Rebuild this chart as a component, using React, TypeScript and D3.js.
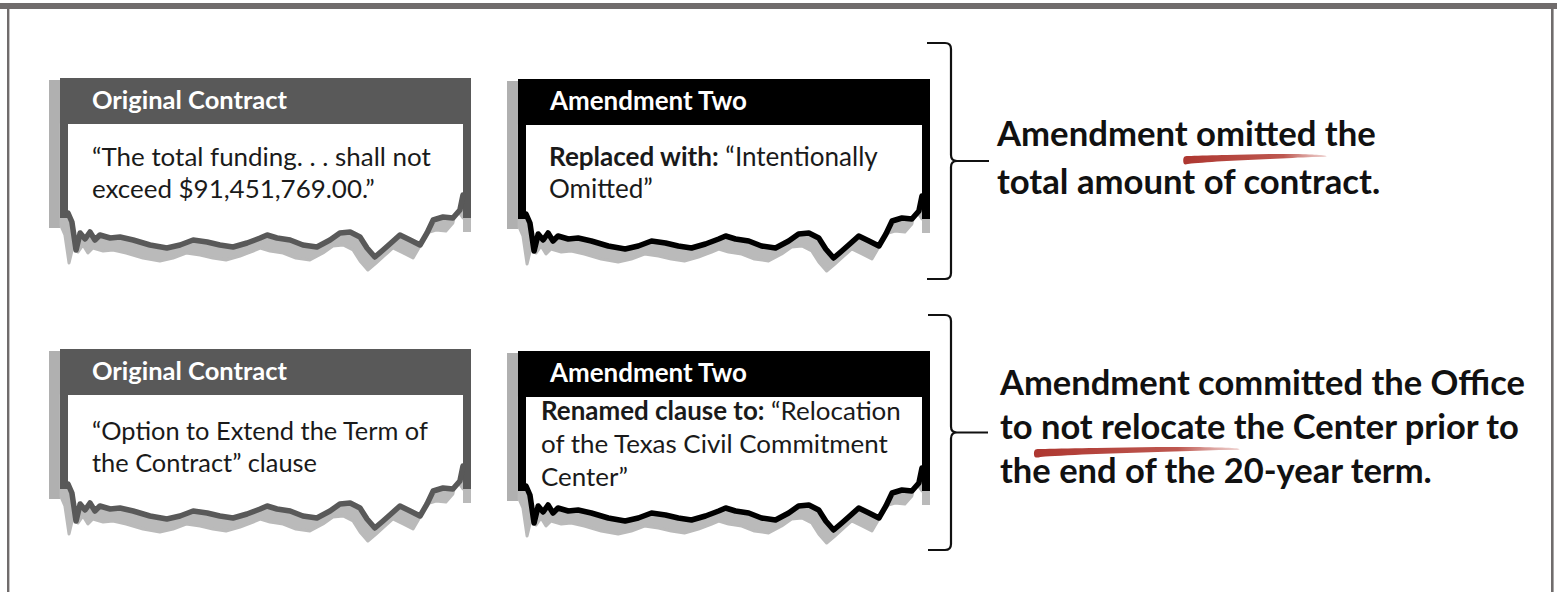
import React, { useEffect, useRef } from "react";
import * as d3 from "d3";

const WIDTH = 1557;
const HEIGHT = 592;

// ---- content ----
const originalTitles = ["Original Contract", "Original Contract"];
const amendmentTitles = ["Amendment Two", "Amendment Two"];

// each line: [bold part, regular part]
const originalText1 = [["", "“The total funding. . . shall not"], ["", "exceed $91,451,769.00.”"]];
const amendmentText1 = [["Replaced with:", " “Intentionally"], ["", "Omitted”"]];
const originalText2 = [["", "“Option to Extend the Term of"], ["", "the Contract” clause"]];
const amendmentText2 = [
  ["Renamed clause to:", " “Relocation"],
  ["", "of the Texas Civil Commitment"],
  ["", "Center”"],
];

const findingText1 = ["Amendment omitted the", "total amount of contract."];
const findingText2 = [
  "Amendment committed the Office",
  "to not relocate the Center prior to",
  "the end of the 20-year term.",
];
const findingHighlight1 = { line: 0, phrase: "omitted" };
const findingHighlight2 = { line: 1, phrase: "not relocate" };

// torn paper edge profile: fraction across the box, drop below the box top (px)
const tornFx = [0.0195, 0.029, 0.039, 0.049, 0.061, 0.073, 0.085, 0.097, 0.122, 0.146, 0.178, 0.219, 0.26, 0.292, 0.324, 0.358, 0.389, 0.421, 0.455, 0.487, 0.504, 0.528, 0.56, 0.591, 0.625, 0.657, 0.681, 0.706, 0.73, 0.747, 0.766, 0.786, 0.808, 0.827, 0.852, 0.876, 0.893, 0.908, 0.932, 0.956, 0.973, 0.9805];
const tornDy = [135, 144, 172, 155, 161, 154, 162, 157, 160, 159, 162, 167, 170, 167, 162, 164, 167, 169, 165, 160, 157, 160, 162, 167, 169, 162, 155, 154, 159, 170, 179, 172, 164, 157, 162, 167, 155, 142, 139, 140, 132, 117];

const FONT = "Lato, Carlito, Calibri, 'Open Sans', sans-serif";

type Box = {
  x: number; y: number; w: number; dark: string;
  title: string; titleW: number;
  lines: string[][]; textX: number; firstBase: number; step: number; lineW: number;
};

const boxes: Box[] = [
  { x: 60, y: 78, w: 411, dark: "#595959", title: originalTitles[0], titleW: 195, lines: originalText1, textX: 32, firstBase: 88, step: 32, lineW: 339 },
  { x: 518, y: 79, w: 412, dark: "#000000", title: amendmentTitles[0], titleW: 197, lines: amendmentText1, textX: 31, firstBase: 87, step: 32, lineW: 329 },
  { x: 60, y: 349, w: 411, dark: "#595959", title: originalTitles[1], titleW: 195, lines: originalText2, textX: 32, firstBase: 91, step: 32, lineW: 336 },
  { x: 518, y: 351, w: 412, dark: "#000000", title: amendmentTitles[1], titleW: 197, lines: amendmentText2, textX: 23, firstBase: 69, step: 33, lineW: 360 },
];

const findings = [
  { x: 997, bases: [146, 194], lines: findingText1, w: 379, hl: findingHighlight1, pad: [12, 10] },
  { x: 1000, bases: [395, 439, 483], lines: findingText2, w: 525, hl: findingHighlight2, pad: [6, 14] },
];

const braces = [
  { x: 951, y0: 43, y1: 279, hook: 927, tick: 989 },
  { x: 951, y0: 315, y1: 550, hook: 928, tick: 988 },
];

export default function App() {
  const ref = useRef<SVGSVGElement>(null);

  useEffect(() => {
    const draw = () => {
      if (!ref.current) return;
      const svg = d3.select(ref.current);
      svg.selectAll("*").remove();

      const defs = svg.append("defs");
      const grad = defs.append("linearGradient").attr("id", "brushGrad").attr("x1", "0").attr("x2", "1").attr("y1", "0").attr("y2", "0");
      grad.append("stop").attr("offset", "0").attr("stop-color", "#a92c25").attr("stop-opacity", 0.95);
      grad.append("stop").attr("offset", "0.7").attr("stop-color", "#b23a31").attr("stop-opacity", 0.85);
      grad.append("stop").attr("offset", "1").attr("stop-color", "#c0554d").attr("stop-opacity", 0.25);

      // frame
      svg.append("rect").attr("x", 0).attr("y", 3).attr("width", WIDTH).attr("height", 6).attr("fill", "#706c6c");
      svg.append("rect").attr("x", 7).attr("y", 3).attr("width", 2.4).attr("height", HEIGHT - 3).attr("fill", "#706c6c");
      svg.append("rect").attr("x", 1551).attr("y", 3).attr("width", 2.6).attr("height", HEIGHT - 3).attr("fill", "#706c6c");

      const line = d3.line<[number, number]>().x((d) => d[0]).y((d) => d[1]);

      boxes.forEach((b) => {
        const g = svg.append("g");
        const x1 = b.x + b.w;
        const pts: [number, number][] = tornFx.map((f, i) => [b.x + f * b.w, b.y + tornDy[i]]);

        // shadow
        const shadow = "#bababa";
        g.append("rect").attr("x", b.x - 11).attr("y", b.y + 2).attr("width", 11).attr("height", 148).attr("fill", "#b0b0b0");
        g.append("rect").attr("x", x1 - 8).attr("y", b.y + 2).attr("width", 8).attr("height", 152).attr("fill", shadow);
        const sh: [number, number][] = [[b.x + 1, b.y + 46], ...pts.map((p) => [p[0] - 7, p[1] + 13] as [number, number]), [x1 - 8, b.y + 140], [x1 - 8, b.y + 46]];
        g.append("path").attr("d", line(sh) + "Z").attr("fill", shadow).attr("stroke", shadow).attr("stroke-width", 3).attr("stroke-linejoin", "round");

        // header + side borders
        g.append("rect").attr("x", b.x).attr("y", b.y).attr("width", b.w).attr("height", 46).attr("fill", b.dark);
        g.append("rect").attr("x", b.x).attr("y", b.y).attr("width", 8).attr("height", 140).attr("fill", b.dark);
        g.append("rect").attr("x", x1 - 8).attr("y", b.y).attr("width", 8).attr("height", 140).attr("fill", b.dark);

        // body
        const body: [number, number][] = [[b.x + 8, b.y + 46], [x1 - 8, b.y + 46], ...pts.slice().reverse()];
        g.append("path").attr("d", line(body) + "Z").attr("fill", "#ffffff");
        g.append("path").attr("d", line(pts)).attr("fill", "none").attr("stroke", b.dark).attr("stroke-width", 5.5).attr("stroke-linejoin", "round").attr("stroke-linecap", "round");

        // title
        const t = g.append("text").attr("x", b.x + 32).attr("y", b.y + 30.5).attr("fill", "#ffffff").attr("font-family", FONT).attr("font-weight", 700).attr("font-size", 20).text(b.title);
        const tl = (t.node() as SVGTextElement).getComputedTextLength();
        if (tl > 0) t.attr("font-size", (20 * b.titleW) / tl);

        // body text
        const texts = b.lines.map((ln, i) => {
          const te = g.append("text").attr("x", b.x + b.textX).attr("y", b.y + b.firstBase + i * b.step).attr("fill", "#1a1a1a").attr("font-family", FONT).attr("font-size", 22).style("white-space", "pre");
          if (ln[0]) te.append("tspan").attr("font-weight", 700).text(ln[0]);
          te.append("tspan").text(ln[1]);
          return te;
        });
        const l0 = (texts[0].node() as SVGTextElement).getComputedTextLength();
        if (l0 > 0) texts.forEach((te) => te.attr("font-size", (22 * b.lineW) / l0));
      });

      // braces
      braces.forEach((br) => {
        const ym = (br.y0 + br.y1) / 2;
        const r = 6;
        const d = `M${br.hook},${br.y0} L${br.x - r},${br.y0} Q${br.x},${br.y0} ${br.x},${br.y0 + r} L${br.x},${ym - r} Q${br.x},${ym} ${br.x + r},${ym} L${br.tick},${ym} M${br.x + r},${ym} Q${br.x},${ym} ${br.x},${ym + r} L${br.x},${br.y1 - r} Q${br.x},${br.y1} ${br.x - r},${br.y1} L${br.hook},${br.y1}`;
        svg.append("path").attr("d", d).attr("fill", "none").attr("stroke", "#111").attr("stroke-width", 2.2);
      });

      // findings
      findings.forEach((f) => {
        const g = svg.append("g");
        const texts = f.lines.map((ln, i) =>
          g.append("text").attr("x", f.x).attr("y", f.bases[i]).attr("fill", "#111").attr("font-family", FONT).attr("font-weight", 700).attr("font-size", 30).style("white-space", "pre").text(ln)
        );
        const l0 = (texts[0].node() as SVGTextElement).getComputedTextLength();
        if (l0 > 0) texts.forEach((te) => te.attr("font-size", (30 * f.w) / l0));

        // brush underline under highlighted phrase
        const node = texts[f.hl.line].node() as SVGTextElement;
        const str = f.lines[f.hl.line];
        const i0 = str.indexOf(f.hl.phrase);
        const i1 = i0 + f.hl.phrase.length - 1;
        const xs = node.getStartPositionOfChar(i0).x - f.pad[0];
        const xe = node.getEndPositionOfChar(i1).x + f.pad[1];
        const yb = f.bases[f.hl.line];
        const L = xe - xs;
        const top: [number, number][] = [[0, 11], [0.05, 10], [0.3, 9], [0.6, 8], [0.9, 8.5], [1, 10]];
        const bot: [number, number][] = [[1, 10.6], [0.9, 11], [0.6, 13], [0.3, 15], [0.05, 17.5], [0, 18]];
        const shape: [number, number][] = [...top, ...bot].map(([t, dy]) => [xs + t * L, yb + dy]);
        const area = d3.line<[number, number]>().x((d) => d[0]).y((d) => d[1]).curve(d3.curveCatmullRomClosed.alpha(0.5));
        g.insert("path", ":first-child").attr("d", area(shape) || "").attr("fill", "url(#brushGrad)");
      });
    };
    draw();
    const fonts = (document as any).fonts;
    if (fonts && fonts.ready) fonts.ready.then(draw);
  }, []);

  return (
    <svg
      ref={ref}
      width={WIDTH}
      height={HEIGHT}
      style={{ position: "absolute", left: 0, top: 0, background: "#ffffff", display: "block" }}
    />
  );
}
